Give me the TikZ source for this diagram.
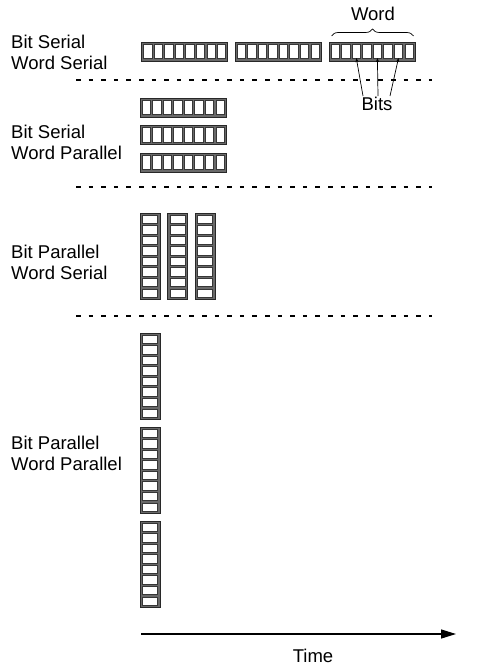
\documentclass[tikz,border=0pt]{standalone}
\usepackage{fontspec}
\setmainfont{Liberation Sans}
\usetikzlibrary{calc,arrows.meta,decorations.pathreplacing}
\tikzset{
  lbl/.style={anchor=north west, inner sep=0pt, align=left, font=\fontsize{18.5}{21}\selectfont},
  plain/.style={inner sep=0pt, font=\fontsize{18.5}{21}\selectfont},
  wordbox/.style={draw={rgb,255:red,40;green,40;blue,40}, fill={rgb,255:red,105;green,105;blue,105}, line width=0.8pt, inner sep=0pt, outer sep=0pt},
  cellbox/.style={draw={rgb,255:red,55;green,55;blue,55}, fill=white, line width=0.6pt},
  sep/.style={line width=1.6pt, dash pattern=on 4.5pt off 8.1pt},
  bitarrow/.style={line width=0.7pt, -{Stealth[length=4pt,width=3pt]}},
  timearrow/.style={line width=1.3pt, -{Triangle[length=15pt,width=9pt]}}
}
% horizontal word: name, x, y (top-left)
\newcommand\hwordat[3]{%
  \node[wordbox, minimum width=86pt, minimum height=19pt, anchor=north west] (#1) at (#2,#3) {};
  \foreach \k in {0,...,7}{\draw[cellbox] ($(#1.north west)+(2,2.3)+(10.55*\k,0)$) rectangle ++(8.4,14.4);}
}
% vertical word
\newcommand\vwordat[3]{%
  \node[wordbox, minimum width=20pt, minimum height=86pt, anchor=north west] (#1) at (#2,#3) {};
  \foreach \k in {0,...,7}{\draw[cellbox] ($(#1.north west)+(2.3,2)+(0,10.55*\k)$) rectangle ++(15.4,8.4);}
}
\begin{document}
\begin{tikzpicture}[x=1pt,y=-1pt]
\useasboundingbox (0,0) rectangle (484,668);
% labels
\node[lbl] (l1) at (11,35) {Bit Serial\\Word Serial};
\node[lbl] (l2) at (11,125) {Bit Serial\\Word Parallel};
\node[lbl] (l3) at (11,245) {Bit Parallel\\Word Serial};
\node[lbl] (l4) at (11,436) {Bit Parallel\\Word Parallel};
% row 1
\hwordat{a1}{141.5}{42}
\hwordat{a2}{235}{42}
\hwordat{a3}{329}{42}
\coordinate (b1) at ($(a3.north west)+(2+10.55*2+4.2,16)$);
\coordinate (b2) at ($(a3.north west)+(2+10.55*4+4.2,16)$);
\coordinate (b3) at ($(a3.north west)+(2+10.55*6+4.2,16)$);
\coordinate (br1) at ($(a3.north west)+(2.5,-6)$);
\coordinate (br2) at ($(a3.north east)+(-1.5,-6)$);
\draw[line width=0.7pt, decorate, decoration={brace, amplitude=7pt}] (br1) -- (br2);
\node[plain] (word) at (373,14) {Word};
\node[plain] (bits) at (377,104) {Bits};
\draw[bitarrow] ([xshift=-14pt,yshift=1pt]bits.north) -- (b1);
\draw[bitarrow] ([xshift=1pt,yshift=1pt]bits.north) -- (b2);
\draw[bitarrow] ([xshift=13pt,yshift=1pt]bits.north) -- (b3);
% separators
\coordinate (d1a) at (76,80); \coordinate (d1b) at (432,80);
\coordinate (d2a) at (76,187); \coordinate (d2b) at (432,187);
\coordinate (d3a) at (76,316); \coordinate (d3b) at (432,316);
\draw[sep] (d1a) -- (d1b);
\draw[sep] (d2a) -- (d2b);
\draw[sep] (d3a) -- (d3b);
% row 2
\hwordat{c1}{140}{98}
\hwordat{c2}{140}{125.5}
\hwordat{c3}{140}{153}
% row 3
\vwordat{e1}{140}{213}
\vwordat{e2}{167.5}{213}
\vwordat{e3}{195}{213}
% row 4
\vwordat{f1}{140}{333}
\vwordat{f2}{140}{427}
\vwordat{f3}{140}{521}
% time axis
\coordinate (t0) at (141,634);
\coordinate (t1) at (456,634);
\draw[timearrow] (t0) -- (t1);
\node[plain] (time) at (313,656) {Time};
\end{tikzpicture}
\end{document}
